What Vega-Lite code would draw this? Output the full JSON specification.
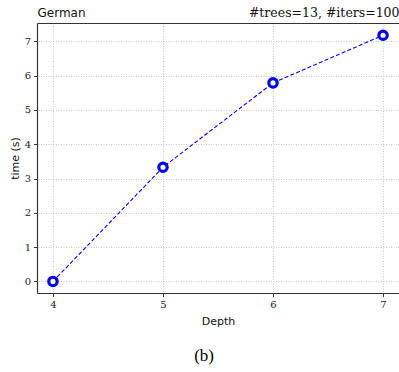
{
  "$schema": "https://vega.github.io/schema/vega-lite/v6.json",
  "width": 362,
  "height": 270,
  "autosize": "none",
  "padding": {"left": 37, "top": 23, "right": 0, "bottom": 79},
  "background": "white",
  "view": {"stroke": null, "fill": null},
  "config": {
    "view": {"stroke": null},
    "axis": {
      "domainColor": "#333333",
      "domainWidth": 1.2,
      "tickColor": "#333333",
      "tickSize": 3.5,
      "tickWidth": 1,
      "labelFont": "DejaVu Serif",
      "labelFontSize": 10,
      "labelColor": "#222222",
      "titleFont": "DejaVu Sans",
      "titleFontSize": 11,
      "titleFontWeight": "normal",
      "titleColor": "#111111",
      "gridColor": "#bbbbbb",
      "gridDash": [1, 1.5],
      "gridWidth": 0.8
    }
  },
  "title": {
    "text": "(b)",
    "orient": "bottom",
    "anchor": "middle",
    "frame": "bounds",
    "font": "Liberation Serif",
    "fontSize": 17,
    "fontWeight": "normal",
    "color": "#000000",
    "offset": 21
  },
  "data": {
    "values": [
      {"depth": 4, "time": 0.0},
      {"depth": 5, "time": 3.33},
      {"depth": 6, "time": 5.79},
      {"depth": 7, "time": 7.18}
    ]
  },
  "resolve": {"axis": {"x": "independent", "y": "independent"}},
  "layer": [
    {
      "mark": {"type": "line", "color": "#0000ff", "strokeWidth": 1.1, "strokeDash": [4, 2.2]},
      "encoding": {
        "x": {
          "field": "depth", "type": "quantitative",
          "scale": {"domain": [3.855, 7.145], "nice": false, "zero": false},
          "axis": {"orient": "bottom", "title": "Depth", "values": [4, 5, 6, 7], "format": "d", "titlePadding": 6, "labelPadding": 3}
        },
        "y": {
          "field": "time", "type": "quantitative",
          "scale": {"domain": [-0.338, 7.537], "nice": false, "zero": false},
          "axis": {"orient": "left", "title": "time (s)", "values": [0, 1, 2, 3, 4, 5, 6, 7], "format": "d", "titlePadding": 4, "labelPadding": 3, "grid": false}
        }
      }
    },
    {
      "mark": {"type": "point", "shape": "circle", "filled": false, "fill": "white", "stroke": "#0000ff", "strokeWidth": 3.2, "size": 70, "opacity": 1},
      "encoding": {
        "x": {
          "field": "depth", "type": "quantitative",
          "axis": {"orient": "top", "title": "#trees=13, #iters=100", "titleAnchor": "end", "titleFont": "DejaVu Serif", "titleFontSize": 12.5, "labels": false, "ticks": false, "grid": false, "titlePadding": 4}
        },
        "y": {
          "field": "time", "type": "quantitative",
          "axis": {"orient": "right", "title": null, "values": [0, 1, 2, 3, 4, 5, 6, 7], "labels": false, "ticks": false, "domain": false, "grid": true, "zindex": 0}
        }
      }
    },
    {
      "mark": {"type": "point", "opacity": 0},
      "encoding": {
        "x": {
          "field": "depth", "type": "quantitative",
          "axis": {"orient": "top", "title": "German", "titleAnchor": "start", "titleFont": "DejaVu Sans", "titleFontSize": 12, "labels": false, "ticks": false, "grid": false, "domain": false, "titlePadding": 4}
        }
      }
    }
  ]
}
